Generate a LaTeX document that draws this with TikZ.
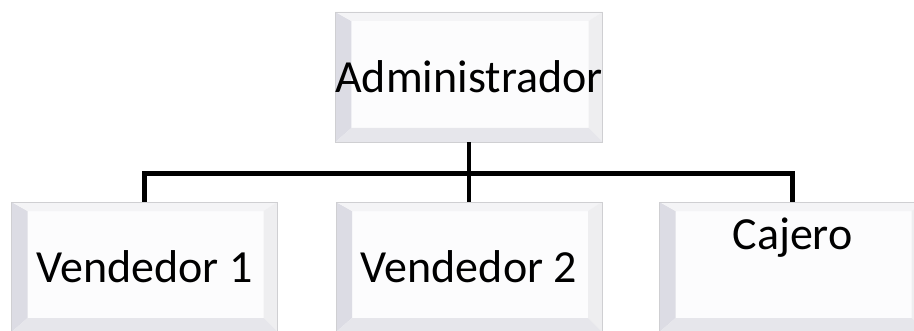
\documentclass[tikz,border=0pt]{standalone}
\usepackage{fontspec}
\setmainfont{Carlito}
\usetikzlibrary{calc}

\definecolor{boxface}{HTML}{FCFCFD}
\definecolor{boxedge}{HTML}{CFCFD2}
\definecolor{bevelleft}{HTML}{DCDCE4}
\definecolor{beveltop}{HTML}{F4F4F6}
\definecolor{bevelright}{HTML}{EEEEF0}
\definecolor{bevelbottom}{HTML}{E6E6EB}

\tikzset{
  orgbox/.style={
    rectangle,
    draw=boxedge,
    line width=0.8pt,
    fill=boxface,
    text=black,
    minimum width=266pt,
    minimum height=130pt,
    inner sep=0pt,
    font=\fontsize{46}{50}\selectfont,
    path picture={
      \fill[bevelleft] (path picture bounding box.north west) -- (path picture bounding box.south west)
        -- ([shift={(16pt,14pt)}]path picture bounding box.south west) -- ([shift={(16pt,-9pt)}]path picture bounding box.north west) -- cycle;
      \fill[beveltop] (path picture bounding box.north west) -- (path picture bounding box.north east)
        -- ([shift={(-14pt,-9pt)}]path picture bounding box.north east) -- ([shift={(16pt,-9pt)}]path picture bounding box.north west) -- cycle;
      \fill[bevelright] (path picture bounding box.north east) -- (path picture bounding box.south east)
        -- ([shift={(-14pt,14pt)}]path picture bounding box.south east) -- ([shift={(-14pt,-9pt)}]path picture bounding box.north east) -- cycle;
      \fill[bevelbottom] (path picture bounding box.south west) -- (path picture bounding box.south east)
        -- ([shift={(-14pt,14pt)}]path picture bounding box.south east) -- ([shift={(16pt,14pt)}]path picture bounding box.south west) -- cycle;
    }
  },
  orgline/.style={line width=4.5pt}
}

\begin{document}
\begin{tikzpicture}[x=1pt,y=1pt]
    \useasboundingbox[fill=white] (0,0) rectangle (914,330);
    \node[orgbox] (admin) at (469,253){Administrador};
    \node[orgbox] (vend1) at (144.5,63){Vendedor 1};
    \node[orgbox] (vend2) at (469,63){Vendedor 2};
    \node[
    orgbox,
    label={[anchor=north, inner sep=0pt, yshift=-16pt, font=\fontsize{46}{50}\selectfont]north:Cajero}
    ] (cajero) at (792.5,63){};
    \coordinate (split) at ($(admin.south)+(0,-31)$);
    \draw[orgline] (admin) -- (split);
    \draw[orgline] (vend1.north) |- (split) -| (cajero.north);
    \draw[orgline] (split) -- (vend2.north);
  \end{tikzpicture}
\end{document}
